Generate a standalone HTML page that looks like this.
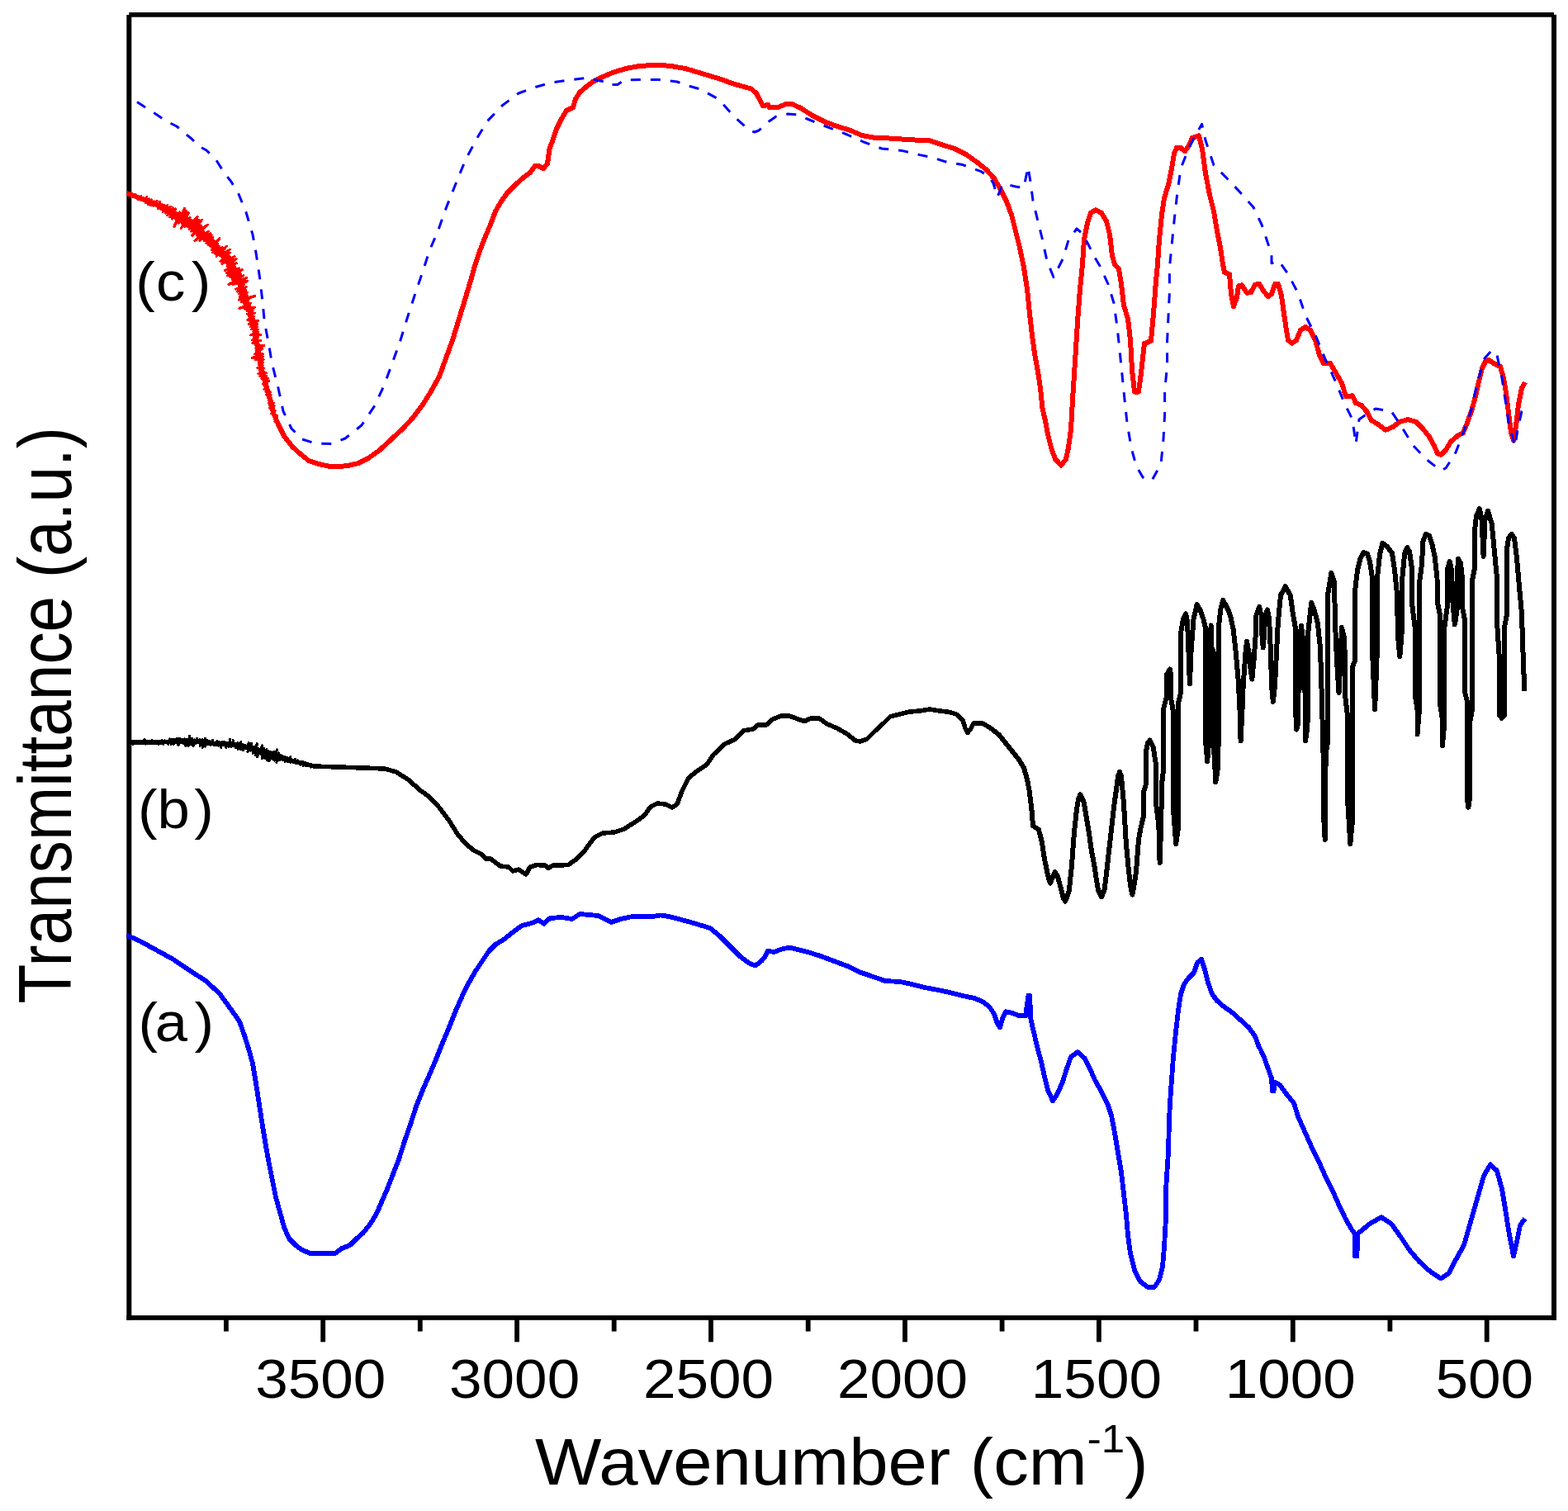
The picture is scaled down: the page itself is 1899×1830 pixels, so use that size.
<!DOCTYPE html>
<html lang="en"><head><meta charset="utf-8"><title>FTIR spectra</title>
<style>html,body{margin:0;padding:0;background:#fff}body{width:1899px;height:1830px;overflow:hidden}svg{display:block}text{font-family:"Liberation Sans",sans-serif;fill:#000}</style>
</head><body>
<svg width="1899" height="1830" viewBox="0 0 1899 1830">
<rect x="0" y="0" width="1899" height="1830" fill="#fff"/>
<g fill="#000">
<rect x="156.3" y="15" width="1725.7" height="5.7"/>
<rect x="153.3" y="18" width="6" height="1580.8"/>
<rect x="1879" y="17.8" width="6" height="1581"/>
<rect x="153.3" y="1593.1" width="1731.7" height="5.7"/>
<rect x="388.3" y="1596" width="5.8" height="29.3"/>
<rect x="623.2" y="1596" width="5.8" height="29.3"/>
<rect x="858.1" y="1596" width="5.8" height="29.3"/>
<rect x="1093.1" y="1596" width="5.8" height="29.3"/>
<rect x="1328.0" y="1596" width="5.8" height="29.3"/>
<rect x="1562.9" y="1596" width="5.8" height="29.3"/>
<rect x="1797.8" y="1596" width="5.8" height="29.3"/>
<rect x="271.0" y="1596" width="5.8" height="16.5"/>
<rect x="505.9" y="1596" width="5.8" height="16.5"/>
<rect x="740.8" y="1596" width="5.8" height="16.5"/>
<rect x="975.8" y="1596" width="5.8" height="16.5"/>
<rect x="1210.7" y="1596" width="5.8" height="16.5"/>
<rect x="1445.6" y="1596" width="5.8" height="16.5"/>
<rect x="1680.5" y="1596" width="5.8" height="16.5"/>
</g>
<g fill="none" stroke-linejoin="round" stroke-linecap="butt" shape-rendering="crispEdges">
<polyline stroke="#0000ff" stroke-width="5.8" points="153.5,1132.5 170.0,1140.0 190.0,1151.0 210.0,1162.0 230.0,1175.5 250.0,1188.5 266.0,1203.5 278.0,1220.0 290.0,1237.0 296.0,1254.0 301.0,1270.0 306.0,1288.0 310.0,1312.0 314.0,1338.0 318.0,1364.0 322.0,1388.0 326.0,1410.0 330.0,1430.0 334.0,1450.0 339.0,1468.0 344.0,1486.0 350.0,1500.0 358.0,1508.0 366.0,1514.0 376.0,1518.0 390.0,1518.4 406.0,1518.0 414.0,1512.0 424.0,1508.0 432.0,1500.0 440.0,1493.0 448.0,1483.0 456.0,1470.0 462.0,1456.0 469.0,1440.0 476.0,1422.0 483.0,1404.0 490.0,1382.0 497.0,1362.0 504.0,1340.0 512.0,1320.0 520.0,1302.0 528.0,1283.0 536.0,1263.0 544.0,1244.0 552.0,1224.0 560.0,1206.0 568.0,1190.0 576.0,1176.0 584.0,1164.0 592.0,1152.0 600.0,1144.0 610.0,1138.0 620.0,1130.0 632.0,1121.0 644.0,1118.0 652.0,1114.3 659.0,1118.7 666.0,1112.0 680.0,1111.0 693.0,1113.0 702.0,1107.0 724.0,1109.0 740.0,1117.0 752.0,1113.0 766.0,1110.0 788.0,1110.4 800.0,1108.4 810.0,1110.0 824.0,1113.6 840.0,1118.0 860.0,1124.0 872.0,1134.0 886.0,1148.0 896.0,1158.0 900.0,1161.0 908.0,1167.0 915.0,1169.6 922.0,1164.0 927.0,1158.0 930.0,1151.9 938.0,1153.0 946.0,1149.6 956.0,1147.6 966.0,1150.0 980.0,1153.6 994.0,1158.0 1010.0,1164.0 1026.0,1170.0 1040.0,1177.0 1056.0,1182.4 1072.0,1188.0 1090.0,1189.0 1104.0,1192.0 1120.0,1196.0 1136.0,1199.0 1150.0,1202.0 1166.0,1206.0 1180.0,1209.0 1190.0,1213.0 1198.0,1219.0 1204.0,1228.0 1208.0,1240.0 1211.0,1244.4 1214.0,1234.0 1218.0,1225.2 1226.0,1227.0 1234.0,1230.0 1242.0,1230.4 1245.5,1205.5 1247.0,1205.5 1248.5,1235.0 1252.0,1250.0 1256.0,1267.0 1261.0,1286.0 1265.0,1304.0 1269.0,1320.0 1275.0,1333.4 1281.0,1324.0 1287.0,1310.0 1292.0,1294.0 1297.0,1280.0 1305.0,1274.1 1314.0,1282.0 1320.0,1294.0 1326.0,1308.0 1334.0,1322.0 1341.0,1336.0 1346.0,1351.0 1350.0,1372.0 1354.0,1396.0 1358.0,1420.0 1361.0,1446.0 1364.0,1472.0 1366.0,1496.0 1369.0,1518.0 1374.0,1538.0 1381.0,1552.0 1390.0,1559.0 1398.0,1559.0 1404.0,1550.0 1408.0,1534.0 1410.0,1510.0 1412.0,1475.0 1412.4,1435.0 1415.0,1395.0 1416.0,1355.0 1418.0,1320.0 1419.0,1308.0 1421.0,1280.0 1424.0,1250.0 1427.0,1224.0 1430.0,1204.0 1434.0,1192.0 1440.0,1184.0 1446.0,1178.0 1450.0,1166.0 1455.0,1161.6 1459.0,1174.0 1463.0,1190.0 1468.0,1204.0 1474.0,1212.0 1482.0,1219.0 1492.0,1226.0 1502.0,1235.0 1512.0,1244.0 1520.0,1255.0 1524.0,1266.0 1530.0,1278.0 1535.0,1292.0 1540.0,1306.0 1541.0,1321.5 1542.5,1321.5 1544.0,1310.6 1550.0,1314.0 1558.0,1325.0 1567.0,1336.0 1572.0,1352.0 1580.0,1370.0 1588.0,1388.0 1596.0,1404.0 1604.0,1422.0 1613.0,1440.0 1621.0,1458.0 1629.0,1475.0 1637.0,1489.0 1640.5,1494.0 1641.0,1521.5 1643.5,1521.5 1644.0,1494.0 1647.0,1492.0 1659.0,1482.0 1673.0,1474.1 1685.0,1482.0 1695.0,1496.0 1707.0,1514.0 1719.0,1528.0 1731.0,1539.0 1745.0,1548.5 1755.0,1542.0 1763.0,1526.0 1773.0,1508.0 1781.0,1480.0 1789.0,1452.0 1797.0,1424.0 1805.0,1410.4 1813.0,1418.0 1819.0,1440.0 1823.0,1464.0 1827.0,1490.0 1833.0,1521.4 1837.0,1504.0 1841.0,1484.0 1847.0,1476.0"/>
<polyline stroke="#000" stroke-width="5.6" points="154.0,899.0 190.0,899.0 210.0,898.0 240.0,898.0 260.0,901.0 280.0,901.0 300.0,905.0 320.0,911.0 340.0,918.0 360.0,923.0 380.0,928.0 410.0,929.0 440.0,930.0 466.0,931.0 480.0,935.0 494.0,944.0 510.0,958.0 520.0,965.0 532.0,978.0 544.0,994.0 554.0,1010.0 564.0,1022.0 574.0,1030.0 584.0,1035.0 588.0,1040.0 594.0,1040.0 606.0,1049.0 616.0,1050.0 621.0,1055.0 628.0,1053.0 637.0,1059.1 642.0,1050.0 650.0,1047.6 660.0,1048.0 664.0,1051.4 670.0,1048.0 688.0,1047.6 696.0,1042.0 706.0,1033.0 714.0,1022.0 720.0,1014.0 730.0,1009.0 744.0,1008.0 756.0,1004.0 770.0,995.0 780.0,988.0 788.0,977.0 796.0,973.0 806.0,974.0 814.0,978.0 820.0,974.0 826.0,958.0 834.0,942.0 844.0,934.0 856.0,926.0 864.0,914.0 878.0,901.0 890.0,895.5 900.0,885.0 912.0,883.0 918.0,878.0 928.0,878.0 936.0,871.0 946.0,867.0 956.0,867.0 964.0,870.0 974.0,873.6 982.0,870.0 992.0,870.0 1002.0,877.0 1014.0,882.0 1026.0,889.0 1036.0,897.0 1042.0,898.0 1050.0,895.0 1060.0,885.0 1070.0,876.0 1078.0,868.0 1090.0,865.0 1102.0,862.0 1114.0,861.0 1126.0,859.0 1138.0,861.0 1150.0,862.4 1158.0,865.0 1166.0,872.0 1169.0,882.0 1172.0,887.6 1176.0,882.0 1179.0,876.0 1190.0,876.0 1200.0,882.0"/>
<polyline stroke="#000" stroke-width="3" points="160.0,898.0 161.5,901.4 163.0,897.6 164.5,899.6 166.0,898.4 167.5,899.7 169.0,897.7 170.5,899.8 172.0,897.3 173.5,900.6 175.0,895.3 176.5,901.2 178.0,898.1 179.5,900.2 181.0,898.0 182.5,900.9 184.0,896.3 185.5,899.8 187.0,897.0 188.5,900.3 190.0,897.4 191.7,901.3 193.0,897.6 194.7,900.6 196.0,896.4 197.8,901.5 199.1,896.9 200.8,899.6 202.3,897.5 204.0,901.2 205.2,894.9 207.1,901.2 208.3,895.3 210.1,901.8 211.5,895.3 213.0,899.4 214.5,894.4 216.0,902.8 217.5,894.6 219.0,899.9 220.5,895.1 222.0,900.5 223.5,894.8 225.0,903.4 226.5,895.1 228.0,903.7 229.5,891.1 231.0,901.3 232.5,894.6 234.0,903.8 235.5,895.9 237.0,900.3 238.5,894.2 239.9,899.4 242.0,895.4 242.3,903.6 245.1,895.3 245.2,905.3 248.4,894.3 248.5,904.1 251.2,896.8 252.1,901.5 254.2,897.6 255.1,902.4 257.5,896.4 258.3,902.0 260.1,899.3 261.5,902.4 263.1,897.4 264.6,903.2 266.2,898.4 267.7,905.5 269.2,898.0 270.8,902.6 272.3,898.4 273.8,905.5 275.4,899.6 276.9,904.3 278.5,895.5 279.7,904.4 282.5,896.7 282.6,903.9 285.0,900.0 285.5,905.6 288.2,899.9 288.3,907.3 291.7,898.5 291.4,908.0 294.3,901.5 294.5,908.5 297.2,902.9 298.0,907.1 301.3,899.8 299.9,910.9 304.9,900.0 303.8,909.1 307.0,904.0 306.1,912.7 311.3,900.8 309.0,914.3 313.1,906.1 311.6,916.7 317.4,903.0 316.0,913.2 319.7,906.5 317.4,918.9 323.0,907.1 320.6,918.4 325.3,909.7 323.1,920.5 328.2,910.6 325.8,921.9 331.4,910.4 329.9,919.5 335.6,907.7 332.5,921.2 337.3,912.0 334.9,923.3 339.6,914.6 339.2,920.7 342.2,915.8 342.6,920.5 345.2,916.8 345.4,922.5 348.3,917.6 348.6,922.8 351.8,916.6 351.8,923.3 354.1,920.5 355.0,923.2 357.6,919.5 358.0,924.3 360.5,920.8 361.3,924.4 363.4,922.4 364.0,926.6 366.6,922.6 367.1,927.5 369.7,923.5 370.4,927.3 372.7,924.7 373.5,927.8 375.8,925.2 376.4,929.2 378.8,926.3 379.8,929.6 381.5,927.4 383.0,928.6 384.5,927.7"/>
<polyline stroke="#000" stroke-width="6" points="1200.0,882.0 1210.0,890.0 1218.0,900.0 1226.0,910.0 1234.0,920.0 1240.0,930.0 1244.0,944.0 1246.7,958.0 1249.7,983.0 1251.0,1000.0 1258.0,1005.0 1261.9,1020.0 1264.9,1040.0 1267.8,1054.0 1270.0,1064.0 1272.0,1069.6 1275.0,1062.0 1277.9,1056.2 1281.0,1062.0 1283.0,1069.0 1285.9,1080.0 1288.0,1088.0 1290.1,1091.5 1292.5,1086.0 1294.9,1078.0 1297.9,1049.0 1300.8,1010.0 1304.0,980.0 1306.0,968.0 1308.2,962.3 1310.5,966.0 1312.9,973.0 1315.8,990.0 1318.9,1009.0 1321.9,1030.0 1325.1,1047.0 1328.0,1066.0 1330.0,1078.0 1333.9,1086.4 1337.5,1078.0 1339.8,1060.0 1343.0,1031.0 1346.1,1004.0 1349.1,977.0 1352.0,956.0 1354.0,940.0 1356.0,935.0 1358.0,940.0 1360.9,972.0 1363.8,1021.0 1367.0,1055.0 1369.0,1072.0 1371.4,1083.5 1373.5,1072.0 1376.0,1056.0 1379.0,1017.0 1381.5,1003.0 1384.7,990.0 1384.9,960.0 1387.8,950.0 1388.0,910.0 1390.0,900.0 1392.6,896.5 1396.7,905.0 1399.8,925.0 1400.0,973.0 1403.4,1000.0 1404.6,1045.0 1406.2,1000.0 1407.0,950.0 1409.3,930.0 1409.5,857.0 1412.5,845.0 1412.5,818.0 1416.8,810.5 1418.2,818.0 1418.5,848.0 1421.0,862.0 1421.0,980.0 1424.2,1022.0 1427.4,1000.0 1427.4,850.0 1430.2,838.0 1430.3,765.0 1433.0,750.0 1436.0,743.5 1438.0,752.0 1439.5,790.0 1440.9,828.5 1442.5,790.0 1443.5,776.0 1445.5,750.0 1449.7,732.0 1454.3,740.5 1457.5,750.0 1460.3,762.0 1460.3,900.0 1462.2,922.0 1464.0,900.0 1465.5,800.0 1466.6,757.5 1466.8,783.0 1469.8,790.0 1469.8,900.0 1472.3,947.4 1475.0,930.0 1475.6,900.0 1475.8,760.0 1478.5,737.0 1481.3,727.0 1487.6,739.0 1490.7,748.5 1493.7,762.5 1496.6,789.0 1499.8,825.0 1501.5,860.0 1502.6,897.5 1504.5,860.0 1505.7,830.0 1508.5,790.0 1510.0,776.8 1512.5,790.0 1514.5,810.0 1516.3,822.6 1518.5,800.0 1520.9,767.0 1521.5,745.0 1525.1,735.0 1527.5,745.0 1528.5,770.0 1529.7,784.3 1531.0,770.0 1532.0,748.0 1534.8,738.5 1537.0,748.0 1539.0,790.0 1540.0,830.0 1541.8,850.0 1544.0,830.0 1545.5,800.0 1547.9,753.0 1551.0,721.0 1556.7,710.3 1562.8,721.0 1565.8,743.0 1568.8,760.0 1569.0,860.0 1570.3,883.6 1572.3,876.0 1572.3,840.0 1574.5,830.0 1574.8,770.0 1576.0,757.5 1577.5,770.0 1577.8,830.0 1580.8,840.0 1580.8,880.0 1581.0,897.5 1583.5,880.0 1583.8,770.0 1586.8,743.0 1588.3,729.7 1592.0,740.0 1595.9,755.0 1599.0,785.0 1601.0,850.0 1602.5,912.0 1603.2,991.0 1604.7,1017.0 1605.2,991.0 1605.6,912.0 1607.9,900.0 1608.0,721.0 1612.3,694.0 1616.0,705.0 1617.0,754.0 1619.0,800.0 1621.5,839.0 1623.5,800.0 1625.0,760.0 1628.0,772.0 1629.0,800.0 1629.2,843.0 1632.3,870.0 1632.3,972.0 1635.3,1022.0 1638.2,992.0 1638.2,807.0 1641.0,800.0 1641.0,716.0 1644.1,690.0 1647.3,677.0 1651.5,669.0 1656.0,671.0 1659.0,680.0 1662.0,700.0 1662.5,800.0 1665.1,859.0 1667.5,800.0 1668.0,700.0 1671.0,672.0 1674.3,657.6 1680.0,662.0 1686.0,670.0 1689.0,690.0 1692.0,720.0 1693.0,770.0 1695.3,795.3 1697.5,770.0 1698.3,700.0 1701.2,670.0 1704.3,663.2 1707.0,668.0 1710.2,690.0 1710.2,732.0 1713.6,760.0 1713.6,840.0 1716.5,860.0 1716.5,889.3 1719.0,859.0 1719.0,740.0 1719.2,704.5 1722.4,680.0 1722.8,657.0 1727.0,646.8 1731.0,649.0 1734.4,659.0 1737.6,674.0 1740.5,700.0 1740.8,729.0 1744.0,745.0 1744.0,853.0 1746.8,870.0 1746.8,903.2 1749.3,876.0 1749.3,760.0 1752.8,735.0 1752.8,690.0 1755.7,680.0 1758.0,690.0 1759.5,730.0 1761.8,756.4 1763.0,750.0 1765.0,735.0 1765.2,690.0 1766.0,677.0 1769.0,682.0 1770.9,700.0 1771.0,735.0 1773.8,750.0 1773.8,837.0 1777.0,850.0 1777.5,972.0 1778.3,977.8 1779.5,972.0 1780.0,876.0 1782.8,860.0 1782.7,704.5 1785.6,690.0 1785.8,644.0 1788.0,625.0 1791.9,616.0 1794.5,630.0 1796.6,673.7 1798.5,630.0 1802.0,619.0 1806.7,634.0 1809.8,667.0 1813.0,700.0 1813.0,753.0 1816.0,800.0 1816.0,866.0 1818.7,869.7 1822.0,866.0 1822.0,760.0 1824.8,745.0 1824.8,666.0 1827.0,652.0 1830.7,646.8 1834.0,652.0 1837.0,676.0 1840.0,711.0 1842.9,742.0 1844.5,790.0 1846.3,837.0"/>
<polyline stroke="#ff0000" stroke-width="6" points="153.5,234.0 170.0,240.0 190.0,248.0 210.0,258.0 226.0,266.0 240.0,277.0 250.0,289.0 260.0,298.0 270.0,306.0 280.0,320.0 290.0,340.0 300.0,370.0 307.0,390.0 310.0,408.0 313.0,430.0 317.0,448.0 322.0,466.0 327.0,484.0 331.0,500.0 337.0,514.0 344.0,528.0 354.0,541.0 364.0,550.0 374.0,558.0 386.0,562.0 400.0,565.0 420.0,564.4 434.0,561.0 446.0,555.0 460.0,545.0 474.0,532.0 488.0,519.0 500.0,506.0 512.0,490.0 522.0,474.0 532.0,456.0 540.0,434.0 548.0,412.0 556.0,386.0 564.0,360.0 570.0,340.0 575.0,322.0 581.0,304.0 588.0,286.0 594.0,272.0 600.0,256.0 607.0,244.0 614.0,234.0 624.0,224.0 634.0,215.0 642.0,209.0 648.0,201.0 652.0,201.0 658.0,204.2 663.0,198.0 665.6,180.0 670.0,168.0 674.0,156.0 680.0,144.0 686.0,134.0 694.0,130.0 697.0,120.0 702.0,112.0 710.0,105.0 718.0,99.0 730.0,93.0 742.0,88.0 758.0,83.0 774.0,80.0 790.0,79.0 810.0,79.6 830.0,83.0 850.0,89.0 870.0,95.0 890.0,102.0 910.0,107.6 916.0,113.0 924.0,128.4 930.0,126.8 932.0,130.0 942.0,130.0 952.0,126.0 960.0,126.4 970.0,131.0 984.0,140.0 1000.0,148.0 1014.0,153.0 1030.0,158.0 1044.0,164.0 1060.0,167.0 1080.0,167.6 1098.0,169.0 1110.0,169.6 1126.0,170.4 1140.0,175.0 1156.0,180.0 1170.0,187.0 1184.0,197.0 1194.0,205.0 1204.0,216.0 1212.0,230.0 1219.0,244.0 1225.0,260.0 1230.0,280.0 1235.0,300.0 1240.0,324.0 1244.0,350.0 1247.0,380.0 1250.0,406.0 1253.0,428.0 1257.0,450.0 1260.0,470.0 1262.4,494.0 1266.0,510.0 1269.0,526.0 1273.0,542.0 1278.0,556.0 1285.0,563.5 1291.0,556.0 1294.0,542.0 1297.0,520.0 1299.0,484.0 1302.0,438.0 1305.0,390.0 1308.0,350.0 1311.0,320.0 1313.0,290.0 1317.0,270.0 1321.0,258.0 1327.0,254.2 1334.0,258.0 1340.0,268.0 1344.0,284.0 1347.0,310.0 1350.0,320.0 1355.0,326.0 1358.0,344.0 1361.0,370.0 1366.0,386.0 1369.0,412.0 1371.0,448.0 1374.0,474.0 1376.0,475.4 1379.0,474.0 1382.0,452.0 1384.0,434.0 1386.0,416.0 1394.0,413.0 1397.0,380.0 1400.0,340.0 1402.0,320.0 1404.0,290.0 1407.0,260.0 1410.0,240.0 1415.0,224.0 1419.0,204.0 1422.0,186.0 1425.0,179.0 1430.0,179.0 1435.0,183.3 1440.0,176.0 1444.0,167.0 1452.0,164.3 1456.0,180.0 1460.0,210.0 1465.0,236.0 1470.0,256.0 1474.0,280.0 1478.0,300.0 1481.0,320.0 1483.0,330.0 1489.0,332.0 1491.0,356.0 1494.0,371.2 1498.0,360.0 1500.0,346.0 1504.0,345.4 1510.0,354.8 1515.0,354.0 1520.0,345.0 1525.0,343.6 1530.0,352.0 1536.0,359.4 1540.0,356.0 1544.0,344.0 1548.0,344.0 1552.0,358.0 1555.0,380.0 1558.0,400.0 1560.0,412.0 1565.0,415.6 1570.0,412.0 1575.0,400.0 1581.0,395.9 1587.0,400.0 1593.0,412.0 1598.0,430.0 1603.0,440.0 1611.0,440.0 1617.0,450.0 1625.0,464.0 1630.0,480.0 1634.0,480.0 1638.0,479.2 1642.0,488.0 1649.0,491.0 1655.0,498.0 1661.0,509.0 1669.0,514.0 1678.0,520.9 1687.0,517.0 1695.0,511.0 1705.0,508.0 1715.0,511.0 1723.0,519.0 1731.0,529.0 1737.0,540.0 1741.0,549.0 1745.0,550.8 1751.0,545.0 1757.0,535.0 1765.0,528.0 1772.0,524.0 1777.0,512.0 1782.0,498.0 1787.0,480.0 1791.0,462.0 1795.0,446.0 1799.0,438.0 1803.0,436.0 1809.0,440.0 1817.0,444.0 1821.0,458.0 1824.0,476.0 1827.0,500.0 1830.0,524.0 1833.0,533.2 1836.0,516.0 1839.0,490.0 1843.0,470.0 1847.0,463.0"/>
<polyline stroke="#ff0000" stroke-width="3" points="160.3,235.8 161.4,237.8 164.2,235.5 164.9,238.7 167.1,237.8 167.5,241.7 170.8,237.8 170.8,242.6 173.9,239.2 173.8,243.8 177.7,238.6 176.6,245.8 180.3,241.0 179.4,247.6 183.5,241.9 182.6,248.7 186.3,243.9 185.9,249.3 190.1,243.4 189.3,249.6 193.7,244.4 191.4,252.8 196.1,247.4 194.9,253.5 199.4,248.5 197.3,256.4 203.0,248.8 200.4,258.1 206.2,250.2 202.8,260.8 209.2,251.8 205.7,262.8 212.5,253.0 208.3,265.1 214.1,257.1 212.1,264.6 217.8,257.0 210.9,274.3 223.9,252.1 216.5,270.4 225.9,255.2 220.1,270.6 228.3,257.7 219.3,276.5 230.1,263.5 223.5,274.4 231.9,266.4 227.5,274.5 239.2,262.3 229.3,277.6 240.2,266.2 231.4,280.1 244.3,266.3 234.7,281.2 243.4,273.5 232.6,285.4 251.3,272.1 238.5,285.0 246.7,280.5 235.9,291.7 252.5,280.1 241.7,291.4 254.9,282.6 247.0,291.9 256.1,284.7 249.8,294.3 257.9,287.7 252.0,296.9 259.2,291.3 254.9,298.6 266.0,288.9 256.3,302.3 263.8,295.8 257.8,305.8 265.9,298.3 260.6,307.5 269.1,299.4 262.3,310.5 274.2,298.2 266.3,309.4 278.5,302.1 268.5,311.3 278.4,306.4 266.9,316.7 278.3,310.7 268.8,319.6 284.3,310.6 275.0,319.3 286.3,313.4 275.3,322.8 286.2,318.8 272.5,327.6 284.8,323.4 274.2,330.6 289.5,324.9 275.3,333.9 293.3,326.8 279.0,335.9 291.4,331.6 281.4,338.5 294.8,333.7 276.8,344.7 298.6,336.4 281.7,344.5 299.6,340.3 289.2,345.5 295.5,345.2 285.9,350.1 298.1,347.8 287.5,353.1 298.0,351.4 289.5,356.0 299.6,354.3 290.3,359.2 299.5,357.9 289.1,363.1 308.6,358.4 292.1,365.6 300.7,364.5 295.4,368.0 303.8,367.0 289.9,373.4 302.7,370.8 297.0,374.5 308.8,372.1 299.9,377.0 306.2,376.5 299.6,380.5 308.6,379.1 301.6,383.3 307.2,383.0 300.0,387.3 308.0,386.2 302.9,389.7 312.6,388.6 301.5,392.6 311.4,392.6 303.6,395.6 311.9,395.9 304.4,398.8 312.9,399.1 306.9,401.8 312.9,402.5 303.3,405.8 315.7,405.4 307.1,408.4 312.4,409.4 305.7,412.0 316.0,412.3 305.9,415.5 313.2,416.2 309.8,418.4 319.9,418.7 309.9,421.8 317.7,422.5 310.7,425.1 314.6,426.3 308.2,428.9 318.7,429.0 305.4,433.4 318.5,432.2 309.6,435.9 319.1,435.5 313.1,438.6 318.9,439.0 313.2,442.0 318.3,442.6 311.8,445.7 319.5,445.7 314.3,448.7 319.1,449.2 312.9,452.7 322.5,451.8 315.0,455.6 323.0,455.1 316.8,458.6 324.6,458.2 319.1,461.5 325.5,461.5 318.9,465.1 323.8,465.5 320.7,468.1 325.0,468.7 320.0,471.8 325.8,472.0 321.9,474.8 327.6,475.0 322.5,478.2 328.1,478.4 324.6,481.1 328.4,481.8 325.6,484.4 329.7,485.0 325.6,487.8 331.4,488.0 326.4,490.9 332.2,491.2 326.6,494.3 331.9,494.7 328.8,497.2 333.1,497.8 328.2,501.0 332.8,501.1 331.2,503.6 335.5,503.6 332.5,506.7 335.6,507.2 333.0,510.2 336.4,510.6 335.2,512.9 338.5,513.3 337.2,515.8 339.7,516.5 338.6,519.0"/>
<polyline stroke="#0000ff" stroke-width="3" stroke-dasharray="12 12" shape-rendering="geometricPrecision" points="166.0,123.6 176.0,130.0 190.0,139.0 202.0,147.0 214.0,153.0 222.0,160.0 232.0,168.0 241.0,177.0 250.0,182.0 262.0,194.0 272.0,210.0 280.0,220.0 289.0,235.0 298.0,257.0 306.0,284.0 310.0,306.0 314.4,335.0 317.6,362.0 320.4,390.0 326.0,420.0 329.4,440.0 337.0,470.0 343.0,498.0 353.0,519.0 366.0,532.0 382.0,537.0 402.0,537.4 418.0,531.0 438.0,515.0 454.0,491.0 465.0,467.0 475.0,440.0 484.4,414.0 493.6,384.0 502.4,357.0 511.6,330.0 520.0,304.0 531.0,278.0 541.0,250.0 553.0,220.0 564.0,193.0 578.0,167.0 590.0,147.0 608.0,128.0 628.0,113.0 650.0,105.0 670.0,99.6 690.0,97.0 710.0,94.4 732.0,99.0 736.0,102.4 748.0,102.4 756.0,97.0 774.0,96.6 798.0,96.6 820.0,99.0 828.0,102.4 848.0,108.0 870.0,120.0 890.0,142.0 908.0,158.0 914.0,160.0 919.0,158.0 930.0,148.0 940.0,141.0 954.0,138.0 966.0,139.0 980.0,145.0 1000.0,153.0 1026.0,163.0 1046.0,172.0 1068.0,180.0 1092.0,182.4 1114.0,187.6 1130.0,191.0 1147.0,196.4 1166.0,199.6 1188.0,207.6 1198.0,214.0 1203.0,222.0 1208.0,238.7 1214.0,223.4 1222.0,224.0 1230.0,226.0 1240.0,227.3 1245.0,202.3 1248.0,220.0 1251.0,243.0 1257.0,268.0 1262.0,288.0 1268.0,316.0 1276.0,335.7 1287.0,314.0 1294.0,291.0 1304.0,276.9 1311.0,283.0 1318.0,296.0 1326.0,312.0 1332.0,322.0 1342.0,344.0 1349.0,367.0 1353.0,396.0 1356.0,424.0 1359.0,454.0 1362.0,484.0 1365.0,512.0 1370.0,542.0 1376.0,564.0 1384.0,578.0 1395.0,581.9 1406.0,562.0 1409.0,532.0 1410.6,502.0 1410.6,473.0 1413.6,443.0 1413.6,413.0 1415.0,383.0 1416.4,354.0 1416.4,324.0 1419.4,294.0 1422.4,264.0 1425.6,236.0 1430.0,204.0 1440.0,179.0 1450.0,160.0 1455.6,150.3 1460.0,170.0 1470.0,200.0 1486.0,216.0 1502.0,233.0 1518.0,251.0 1528.0,272.0 1534.0,290.0 1540.0,308.0 1540.0,318.8 1549.0,316.1 1560.0,332.0 1572.0,355.0 1581.0,382.0 1594.0,408.0 1605.0,435.0 1617.0,461.0 1629.0,490.0 1638.0,508.0 1642.0,537.7 1646.0,508.0 1659.0,499.0 1666.0,495.0 1685.0,498.0 1697.0,516.0 1711.0,539.0 1727.0,556.0 1745.0,569.9 1751.0,567.0 1763.0,548.0 1773.0,522.0 1782.0,496.0 1789.0,464.0 1798.0,434.0 1807.0,423.9 1813.0,430.0 1819.0,458.0 1823.0,484.0 1827.0,512.0 1835.0,540.7 1838.0,520.0 1843.0,498.0 1848.0,494.0"/>
</g>
<g font-size="66.5" text-anchor="middle">
<text transform="translate(388.2 1693.0) scale(1.069 1)">3500</text>
<text transform="translate(623.1 1693.0) scale(1.069 1)">3000</text>
<text transform="translate(858.0 1693.0) scale(1.069 1)">2500</text>
<text transform="translate(1093.0 1693.0) scale(1.069 1)">2000</text>
<text transform="translate(1327.9 1693.0) scale(1.069 1)">1500</text>
<text transform="translate(1562.8 1693.0) scale(1.069 1)">1000</text>
<text transform="translate(1797.7 1693.0) scale(1.069 1)">500</text>
</g>
<g font-size="66.0">
<text transform="translate(165.5 364.0) scale(1.07 1)" dx="-1.2 1.2 7">(c)</text>
<text transform="translate(167.5 1003.0) scale(1.07 1)" dx="-0.4 0 5">(b)</text>
<text transform="translate(167.5 1261.0) scale(1.07 1)" dx="0 -3 7.8">(a)</text>
</g>
<text font-size="79.0" transform="translate(648.0 1798.0) scale(1.078 1)">Wavenumber (cm<tspan font-size="47.4" dy="-39">-1</tspan><tspan dy="39">)</tspan></text>
<text font-size="78.4" transform="translate(85.5 1215.5) scale(1.15 1) rotate(-90)">Transmittance (a.u.)</text>
</svg></body></html>
